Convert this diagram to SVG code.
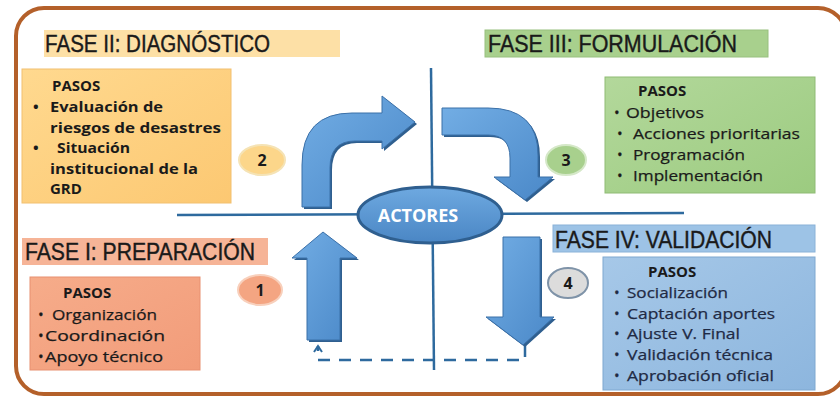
<svg xmlns="http://www.w3.org/2000/svg" width="840" height="398" viewBox="0 0 840 398">
<defs>
<linearGradient id="gArrow" x1="0" y1="0" x2="1" y2="1">
<stop offset="0" stop-color="#72ADE4"/><stop offset="1" stop-color="#4A88C8"/>
</linearGradient>
<linearGradient id="gEll" x1="0" y1="0" x2="0" y2="1">
<stop offset="0" stop-color="#6EA9E0"/><stop offset="1" stop-color="#4A86C4"/>
</linearGradient>
<linearGradient id="gOrange" x1="0" y1="0" x2="1" y2="1">
<stop offset="0" stop-color="#FFD98F"/><stop offset="1" stop-color="#FCC872"/>
</linearGradient>
<linearGradient id="gGreen" x1="0" y1="0" x2="1" y2="1">
<stop offset="0" stop-color="#B3D89B"/><stop offset="1" stop-color="#9CCB80"/>
</linearGradient>
<linearGradient id="gSalmon" x1="0" y1="0" x2="1" y2="1">
<stop offset="0" stop-color="#F6AC8A"/><stop offset="1" stop-color="#F29C7A"/>
</linearGradient>
<linearGradient id="gBlue" x1="0" y1="0" x2="1" y2="1">
<stop offset="0" stop-color="#A6C8E8"/><stop offset="1" stop-color="#8DB6DE"/>
</linearGradient>
<marker id="openUp" viewBox="0 0 10 10" refX="8" refY="5" markerWidth="10" markerHeight="10" markerUnits="userSpaceOnUse" orient="auto">
<path d="M2,1 L8,5 L2,9" fill="none" stroke="#2E6A9E" stroke-width="2"/>
</marker>
<style>
.phase{font-family:"Liberation Sans",Arial,sans-serif;font-size:23px;fill:#1a1a1a;stroke:#1a1a1a;stroke-width:0.4}
.h{font-family:"Open Sans",sans-serif;font-weight:bold;font-size:15px;fill:#1a1a1a}
.b{font-family:"Open Sans",sans-serif;font-weight:bold;font-size:15px;fill:#1a1a1a}
.r{font-family:"Open Sans",sans-serif;font-size:15px;fill:#1a1a1a;stroke:#1a1a1a;stroke-width:0.25}
.rb{font-family:"Open Sans",sans-serif;font-size:15px;fill:#1F2A44;stroke:#1F2A44;stroke-width:0.25}
.num{font-family:"Open Sans",sans-serif;font-weight:bold;font-size:16px;fill:#1a1a1a;text-anchor:middle}
.arrow{fill:url(#gArrow);stroke:#3B70A8;stroke-width:1}
.shadow{fill:#2F5F8F}
.axis{stroke:#2E6A9E;stroke-width:2.5;fill:none}
</style>
</defs>
<rect width="840" height="398" fill="#ffffff"/>
<rect id="frame" x="16" y="8" width="830" height="386" rx="28" fill="none" stroke="#B4602A" stroke-width="4"/>

<g id="connectors">
<line class="axis" x1="177" y1="215" x2="684" y2="213"/>
<line class="axis" x1="431" y1="68" x2="434" y2="370"/>
<path d="M525,345 L525,360 L318,360 L318,346" fill="none" stroke="#2E6A9E" stroke-width="2.5" stroke-dasharray="12,9" marker-end="url(#openUp)"/>
<g id="arrow2">
<path class="shadow" transform="translate(2,2)" d="M302,207 L302,165 Q302,113 352,113 L382,113 L382,96 L415,122 L382,149 L382,141 L355,141 Q330,141 330,168 L330,207 Z"/>
<path class="arrow" d="M302,207 L302,165 Q302,113 352,113 L382,113 L382,96 L415,122 L382,149 L382,141 L355,141 Q330,141 330,168 L330,207 Z"/>
</g>
<g id="arrow3">
<path class="shadow" transform="translate(2,2)" d="M442,108 L488,108 Q538,108 538,155 L538,177 L553,177 L525,200 L494,177 L510,177 L510,158 Q510,135 488,135 L442,135 Z"/>
<path class="arrow" d="M442,108 L488,108 Q538,108 538,155 L538,177 L553,177 L525,200 L494,177 L510,177 L510,158 Q510,135 488,135 L442,135 Z"/>
</g>
<g id="arrow1">
<path class="shadow" transform="translate(2,2)" d="M307,340 L307,258 L292,258 L323,232 L357,258 L340,258 L340,340 Z"/>
<path class="arrow" d="M307,340 L307,258 L292,258 L323,232 L357,258 L340,258 L340,340 Z"/>
</g>
<g id="arrow4">
<path class="shadow" transform="translate(2,2)" d="M503,237 L540,237 L540,317 L554,317 L523,345 L486,317 L503,317 Z"/>
<path class="arrow" d="M503,237 L540,237 L540,317 L554,317 L523,345 L486,317 L503,317 Z"/>
</g>
</g>

<g id="actores">
<ellipse cx="430" cy="215" rx="72" ry="28" fill="url(#gEll)" stroke="#2F5F8F" stroke-width="3"/>
<text x="418" y="222" text-anchor="middle" font-family="'Open Sans',sans-serif" font-weight="bold" font-size="18" fill="#ffffff">ACTORES</text>
</g>

<g id="fase2-label">
<rect x="44" y="30" width="296" height="27" fill="#FDE0A6"/>
<text class="phase" x="45" y="52" textLength="225" lengthAdjust="spacingAndGlyphs">FASE II: DIAGNÓSTICO</text>
</g>
<g id="fase2-pasos">
<rect x="22" y="69" width="209" height="134" fill="url(#gOrange)" stroke="#F2C070" stroke-width="1"/>
<text class="h" x="52" y="91">PASOS</text>
<text class="b" x="33" y="112">•<tspan x="50" textLength="113" lengthAdjust="spacingAndGlyphs">Evaluación de</tspan></text>
<text class="b" x="50" y="133" textLength="171" lengthAdjust="spacingAndGlyphs">riesgos de desastres</text>
<text class="b" x="33" y="153">•<tspan x="57" textLength="73" lengthAdjust="spacingAndGlyphs">Situación</tspan></text>
<text class="b" x="50" y="174" textLength="148" lengthAdjust="spacingAndGlyphs">institucional de la</text>
<text class="b" x="50" y="194">GRD</text>
</g>
<g id="step2">
<ellipse cx="262" cy="160" rx="23" ry="15" fill="#FCD68A" stroke="#F5E3B5" stroke-width="2"/>
<text class="num" x="262" y="166">2</text>
</g>

<g id="fase3-label">
<rect x="485" y="30" width="283" height="27" fill="#A8D08D" stroke="#98C07E" stroke-width="1"/>
<text class="phase" x="488" y="52" textLength="249" lengthAdjust="spacingAndGlyphs">FASE III: FORMULACIÓN</text>
</g>
<g id="fase3-pasos">
<rect x="605" y="77" width="210" height="116" fill="url(#gGreen)" stroke="#8FBB74" stroke-width="1"/>
<text class="h" x="638" y="96">PASOS</text>
<text class="r" x="614" y="118">•<tspan x="626" textLength="78" lengthAdjust="spacingAndGlyphs">Objetivos</tspan></text>
<text class="r" x="617" y="139">•<tspan x="633" textLength="167" lengthAdjust="spacingAndGlyphs">Acciones prioritarias</tspan></text>
<text class="r" x="617" y="160">•<tspan x="633" textLength="112" lengthAdjust="spacingAndGlyphs">Programación</tspan></text>
<text class="r" x="617" y="181">•<tspan x="633" textLength="130" lengthAdjust="spacingAndGlyphs">Implementación</tspan></text>
</g>
<g id="step3">
<ellipse cx="566" cy="160" rx="20" ry="15" fill="#A8D08D" stroke="#D5E8C8" stroke-width="2"/>
<text class="num" x="566" y="166">3</text>
</g>

<g id="fase1-label">
<rect x="22" y="238" width="246" height="27" fill="#F6B497"/>
<text class="phase" x="25" y="260" textLength="230" lengthAdjust="spacingAndGlyphs">FASE I: PREPARACIÓN</text>
</g>
<g id="fase1-pasos">
<rect x="30" y="277" width="170" height="93" fill="url(#gSalmon)" stroke="#E89070" stroke-width="1"/>
<text class="h" x="63" y="298">PASOS</text>
<text class="r" x="38" y="320">•<tspan x="52" textLength="105" lengthAdjust="spacingAndGlyphs">Organización</tspan></text>
<text class="r" x="38" y="341">•<tspan x="45" textLength="120" lengthAdjust="spacingAndGlyphs">Coordinación</tspan></text>
<text class="r" x="38" y="362">•<tspan x="45" textLength="118" lengthAdjust="spacingAndGlyphs">Apoyo técnico</tspan></text>
</g>
<g id="step1">
<ellipse cx="260" cy="290" rx="22" ry="15" fill="#F4A582" stroke="#F8D0BC" stroke-width="2"/>
<text class="num" x="260" y="296">1</text>
</g>

<g id="fase4-label">
<rect x="553" y="225" width="262" height="27" fill="#9DC3E6" stroke="#8AB2D8" stroke-width="1"/>
<text class="phase" x="555" y="248" textLength="217" lengthAdjust="spacingAndGlyphs">FASE IV: VALIDACIÓN</text>
</g>
<g id="fase4-pasos">
<rect x="603" y="257" width="212" height="133" fill="url(#gBlue)" stroke="#7FA8D0" stroke-width="1"/>
<text class="h" x="648" y="277">PASOS</text>
<text class="rb" x="614" y="298">•<tspan x="627" textLength="101" lengthAdjust="spacingAndGlyphs">Socialización</tspan></text>
<text class="rb" x="614" y="319">•<tspan x="627" textLength="148" lengthAdjust="spacingAndGlyphs">Captación aportes</tspan></text>
<text class="rb" x="614" y="339">•<tspan x="627" textLength="113" lengthAdjust="spacingAndGlyphs">Ajuste V. Final</tspan></text>
<text class="rb" x="614" y="360">•<tspan x="627" textLength="146" lengthAdjust="spacingAndGlyphs">Validación técnica</tspan></text>
<text class="rb" x="614" y="381">•<tspan x="627" textLength="147" lengthAdjust="spacingAndGlyphs">Aprobación oficial</tspan></text>
</g>
<g id="step4">
<ellipse cx="568" cy="283" rx="20" ry="15" fill="#DCDCDC" stroke="#7F93A8" stroke-width="2"/>
<text class="num" x="568" y="289">4</text>
</g>
</svg>
